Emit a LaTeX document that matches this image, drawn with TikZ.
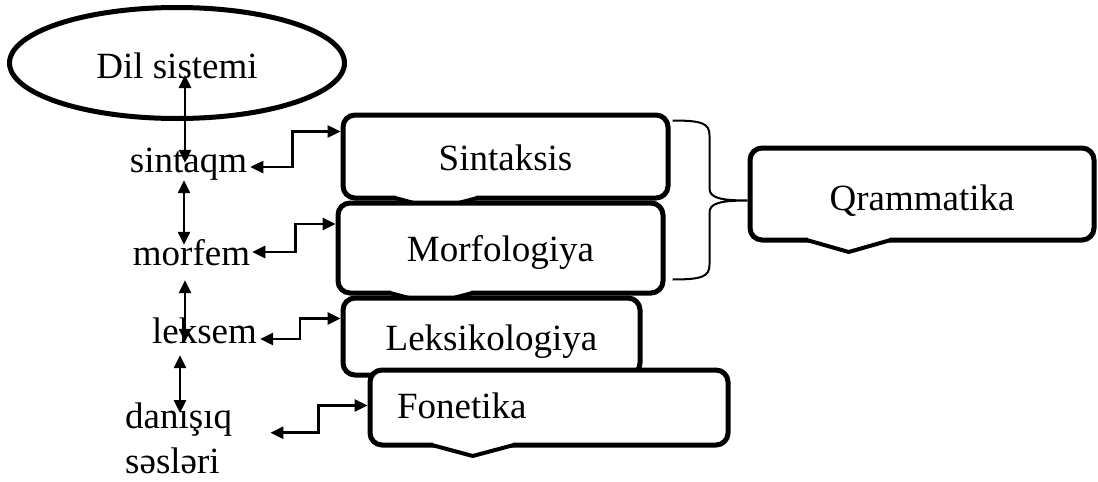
\documentclass[tikz,border=0pt]{standalone}
\usepackage{fontspec}
\setmainfont{Liberation Serif}
\usepackage{tikz}
\usetikzlibrary{
  shapes.geometric, arrows.meta, calc
}
\tikzstyle{bubble} = [rectangle, draw, line width=5pt, rounded corners=12pt,
                      fill=white, inner sep=0pt, text height=27pt, text depth=0pt,
                      font=\fontsize{37}{45}\selectfont]
\tikzstyle{arr}    = [line width=2.6pt, <->, >={Triangle[length=13pt,width=12pt]}]

\begin{document}
\begin{tikzpicture}[x=1pt, y=-1pt,
    word/.style={inner sep=0pt, text height=25pt, text depth=8pt,
                 font=\fontsize{37}{45}\selectfont},
    oval/.style={ellipse, draw, line width=5pt, minimum width=335pt,
                 minimum height=111pt, text height=30pt, text depth=0pt,
                 font=\fontsize{37}{45}\selectfont},
    tail/.style={line width=4pt, line join=miter},
    brc/.style={line width=2pt}]
  \useasboundingbox (0,0) rectangle (1098,482);

  % left column
  \node[oval] (dil) at (177,63) {Dil sistemi};
  \node[word, anchor=base] (sq) at (188.5,172) {sintaqm};
  \node[word, anchor=base] (mf) at (191.5,265) {morfem};
  \node[word, anchor=base] (lk) at (204.5,343) {leksem};
  \node[inner sep=0pt, font=\fontsize{37}{45}\selectfont, align=left,
        text width=143pt, anchor=north west] (ds) at (125,403) {danışıq\\səsləri};

  % boxes, drawn top to bottom so that each lies over the one before
  \node[bubble, minimum width=325pt, minimum height=83pt] (sin) at (505.5,156.5) {Sintaksis};
  \fill[white] ($(sin.south west)!0.29!(sin.south east)+(-40,-6)$) -- ++(0,3.5) -- ++(40,11) -- ++(40,-11) -- ++(0,-3.5) -- cycle;
  \draw[tail] ($(sin.south west)!0.29!(sin.south east)+(-41,-2.5)$) -- ++(41,11) -- ++(41,-11);
  \node[bubble, minimum width=325pt, minimum height=90pt] (mo) at (500.5,248) {Morfologiya};
  \fill[white] ($(mo.south west)!0.29!(mo.south east)+(-40,-6)$) -- ++(0,3.5) -- ++(40,11) -- ++(40,-11) -- ++(0,-3.5) -- cycle;
  \draw[tail] ($(mo.south west)!0.29!(mo.south east)+(-41,-2.5)$) -- ++(41,11) -- ++(41,-11);
  \node[bubble, minimum width=297pt, minimum height=77pt] (lx) at (491.5,336.5) {Leksikologiya};
  \node[bubble, minimum width=358pt, minimum height=75pt, text width=304pt,
        align=left, text height=21pt] (fo) at (549,407.5) {Fonetika};
  \fill[white] ($(fo.south west)!0.29!(fo.south east)+(-40,-6)$) -- ++(0,3.5) -- ++(40,11) -- ++(40,-11) -- ++(0,-3.5) -- cycle;
  \draw[tail] ($(fo.south west)!0.29!(fo.south east)+(-41,-2.5)$) -- ++(41,11) -- ++(41,-11);
  \node[bubble, minimum width=344pt, minimum height=92pt, text height=32pt] (qr) at (922,194) {Qrammatika};
  \fill[white] ($(qr.south west)!0.29!(qr.south east)+(-41,-6)$) -- ++(0,3.5) -- ++(41,12) -- ++(41,-12) -- ++(0,-3.5) -- cycle;
  \draw[tail] ($(qr.south west)!0.29!(qr.south east)+(-42,-2.5)$) -- ++(42,12) -- ++(42,-12);

  % brace over Sintaksis and Morfologiya
  \draw[brc] ([xshift=2pt,yshift=-8pt]sin.north east)
    .. controls +(30,0) and +(0,-12) .. ++(37,15) -- ++(0,53)
    .. controls +(0,9) and +(-28,0) .. ++(38,12)
    .. controls +(-28,0) and +(0,-9) .. ++(-38,12) -- ++(0,52)
    .. controls +(0,12) and +(30,0) .. ++(-37,15);

  % vertical arrows
  \draw[arr] ([xshift=8pt,yshift=-12pt]dil.center) -- ([xshift=-3.5pt,yshift=-16pt]sq.north);
  \draw[arr] ([xshift=-4.5pt]sq.south) -- ([xshift=-7.5pt,yshift=-5pt]mf.north);
  \draw[arr] ([xshift=-6.5pt,yshift=-7pt]mf.south) -- ([xshift=-19.5pt,yshift=-24pt]lk.north);
  \draw[arr] ([xshift=-24.5pt,yshift=-4pt]lk.south) -- ([xshift=55pt,yshift=-10pt]ds.north west);

  % elbow arrows to the boxes
  \draw[arr] ([xshift=3pt,yshift=-3.5pt]sq.east) -- ++(42,0) |- ([yshift=25pt]sin.west);
  \draw[arr] ([xshift=2pt,yshift=4.5pt]mf.east) -- ++(43,0) |- ([yshift=24pt]mo.west);
  \draw[arr] ([xshift=3pt,yshift=-4.5pt]lk.east) -- ++(40,0) |- ([yshift=18pt]lx.west);
  \draw[arr] ([xshift=2pt,yshift=6pt]ds.east) -- ++(48,0) |- ([yshift=2pt]fo.west);
\end{tikzpicture}
\end{document}
